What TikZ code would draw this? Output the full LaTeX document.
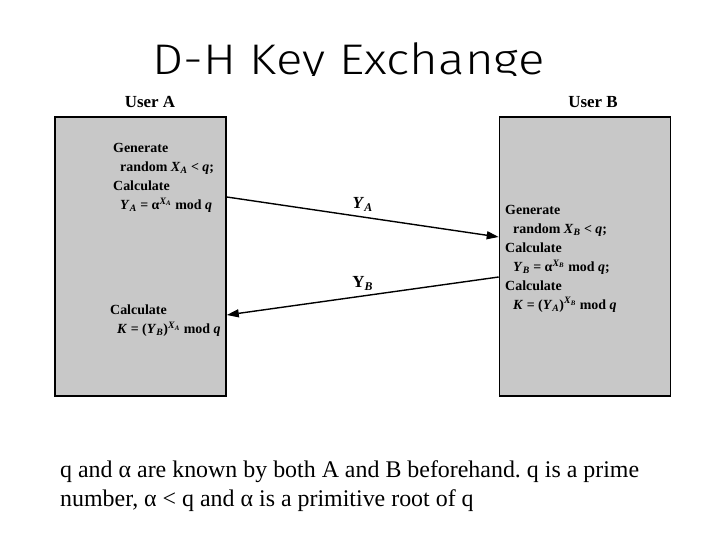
\documentclass[tikz,border=0pt]{standalone}
\usepackage{fontspec}
\setmainfont{Liberation Serif}
\newfontfamily\titlefont[FakeStretch=1.15]{Fira Sans Light}
\usepackage{xcolor}
\usetikzlibrary{arrows.meta, positioning}
\definecolor{boxgray}{RGB}{200,200,200}
\newcommand{\dhvar}[2]{\textit{#1}\textsubscript{\textit{#2}}}

\begin{document}
\frenchspacing
\begin{tikzpicture}[
    x=1bp, y=-1bp,
    userbox/.style={draw=black, fill=boxgray, line width=1.6bp, minimum width=171bp, minimum height=279bp, inner sep=0pt},
    username/.style={font=\fontsize{17}{17}\selectfont\bfseries, anchor=base, inner sep=0pt},
    calc/.style={font=\fontsize{14}{19}\selectfont\bfseries, align=left, anchor=north west, inner sep=0pt},
    msg/.style={-{Triangle[length=12bp, width=8bp]}, line width=1.4bp},
    msglabel/.style={font=\fontsize{17}{17}\selectfont\bfseries, above=5bp, inner sep=0pt},
    note/.style={font=\fontsize{24}{30}\selectfont, align=left, anchor=north west, inner sep=0pt}
]
\useasboundingbox (0,0) rectangle (720,540);

% title, cut off just below its baseline
\begin{scope}
\clip (0,0) rectangle (720,76);
\node[font=\titlefont\fontsize{43}{43}\selectfont, anchor=base west, inner sep=0pt] (title) at (152,75) {D-H Key Exchange};
\end{scope}

\node[username] (nameA) at (150,108) {User A};
\node[username] (nameB) at (593,108) {User B};

\node[userbox] (boxA) at (140.5,256.5) {};
\node[userbox] (boxB) at (585,256.5) {};

\node[calc] (genA) at (113,143) {Generate\\\hspace*{7bp}random \dhvar{X}{A} < \textit{q};\\Calculate\\\hspace*{7bp}\dhvar{Y}{A} = α\textsuperscript{\dhvar{X}{A}} mod \textit{q}};
\node[calc] (keyA) at (110,305) {Calculate\\\hspace*{7bp}\textit{K} = (\dhvar{Y}{B})\textsuperscript{\dhvar{X}{A}} mod \textit{q}};
\node[calc] (genB) at (505,205) {Generate\\\hspace*{8bp}random \dhvar{X}{B} < \textit{q};\\Calculate\\\hspace*{8bp}\dhvar{Y}{B} = α\textsuperscript{\dhvar{X}{B}} mod \textit{q};\\Calculate\\\hspace*{8bp}\textit{K} = (\dhvar{Y}{A})\textsuperscript{\dhvar{X}{B}} mod \textit{q}};

% messages
\coordinate (sendA) at (boxA.east |- 0,197);
\coordinate (recvB) at (boxB.west |- 0,237);
\coordinate (sendB) at (boxB.west |- 0,277);
\coordinate (recvA) at (boxA.east |- 0,315);
\draw[msg] (sendA) -- node[msglabel] (labYA) {\dhvar{Y}{A}} (recvB);
\draw[msg] (sendB) -- node[msglabel] (labYB) {Y\textsubscript{\textit{B}}} (recvA);

\node[note] (note) at (60,460) {q and α are known by both A and B beforehand. q is a prime\\number, α < q and α is a primitive root of q};

\end{tikzpicture}
\end{document}
